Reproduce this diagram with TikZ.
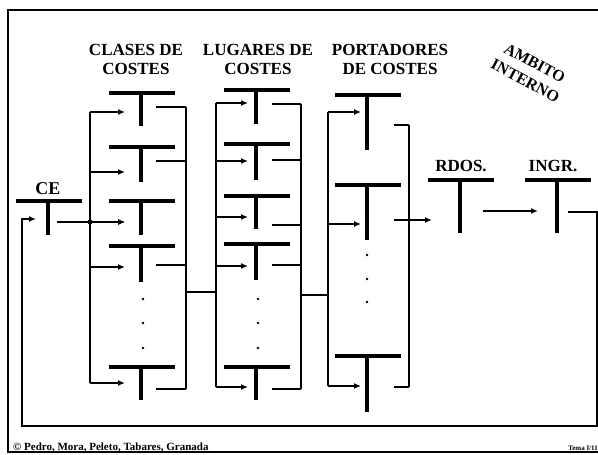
\documentclass[tikz,border=0pt]{standalone}
\usepackage{fontspec}
\setmainfont{Liberation Serif}
\usetikzlibrary{arrows.meta}
\tikzset{
	barra/.style={line width=3.2pt},
	linea/.style={line width=2.4pt},
	rotulo/.style={font=\bfseries\fontsize{17}{19}\selectfont, align=center, inner sep=0pt},
}
% cuenta en T: #1 nombre, #2 x del palo, #3 y de la barra, #4 y del final del palo
\newcommand*{\cuentaT}[4]{
	\coordinate (#1) at (#2,#3);
	\draw[barra] (#2-32,#3) -- (#2+34,#3);
	\draw[barra] (#1) -- (#2,#4);
}
\begin{document}
\begin{tikzpicture}[x=1pt,y=-1pt,>={Latex[length=7pt,width=6pt]}]
		\useasboundingbox (0,0) rectangle (598,455);
		
		% el marco
		\draw[line width=2.6pt] (598,10) -- (8,10) -- (8,452) -- (598,452);
		
		% titles
		\node[rotulo] (clases) at (136,59) {CLASES DE\\COSTES};
		\node[rotulo] (lugares) at (258,59) {LUGARES DE\\COSTES};
		\node[rotulo] (portadores) at (390,59) {PORTADORES\\DE COSTES};
		\node[rotulo,font=\bfseries\fontsize{16}{20}\selectfont,rotate=-28] (ambito) at (530,72) {AMBITO\\INTERNO};
		
		% CE
		\cuentaT{ce}{48}{201}{235}
		\node[rotulo,font=\bfseries\fontsize{18}{20}\selectfont] (celbl) at (48,189) {CE};
		
		% clases de costes
		\coordinate (b1a) at (90,112);
		\coordinate (b1b) at (90,383);
		\coordinate (d1a) at (186,107);
		\coordinate (d1b) at (186,389);
		\foreach \n/\yb/\ys/\ya/\yo in {1/93/126/112/107,2/147/182/172/161,3/201/235/222/0,4/246/282/267/265,5/367/400/383/389}
		{
			\cuentaT{c\n}{141}{\yb}{\ys}
			\draw[linea,->] (b1a|-0,\ya) -- (125,\ya);
			\ifnum\yo>0 \draw[linea] (156,\yo) -- (d1a|-0,\yo); \fi
		}
		\draw[linea] (b1a) -- (b1b);
		\draw[linea] (d1a) -- (d1b);
		
		% lugares de costes
		\coordinate (b2a) at (216,103);
		\coordinate (b2b) at (216,387);
		\coordinate (d2a) at (301,104);
		\coordinate (d2b) at (301,389);
		\foreach \n/\yb/\ys/\ya/\yo in {1/90/124/103/104,2/144/180/161/160,3/196/229/217/225,4/244/280/266/265,5/367/400/387/389}
		{
			\cuentaT{l\n}{256}{\yb}{\ys}
			\draw[linea,->] (b2a|-0,\ya) -- (248,\ya);
			\draw[linea] (272,\yo) -- (d2a|-0,\yo);
		}
		\draw[linea] (b2a) -- (b2b);
		\draw[linea] (d2a) -- (d2b);
		
		% portadores de costes
		\coordinate (b3a) at (328,112);
		\coordinate (b3b) at (328,386);
		\coordinate (d3a) at (409,125);
		\coordinate (d3b) at (409,387);
		\foreach \n/\yb/\ys/\ya/\yo in {1/95/150/112/125,2/185/240/224/220,3/356/412/386/387}
		{
			\cuentaT{p\n}{367}{\yb}{\ys}
			\draw[linea,->] (b3a|-0,\ya) -- (361,\ya);
			\draw[linea] (394,\yo) -- (d3a|-0,\yo);
		}
		\draw[linea] (b3a) -- (b3b);
		\draw[linea] (d3a) -- (d3b);
		
		% dots
		\foreach \y in {299,323,348}
		{
			\fill (143,\y) circle (1.4);
			\fill (258,\y) circle (1.4);
		}
		\foreach \y in {255,279,302}
			\fill (367,\y) circle (1.4);
		
		% RDOS. and INGR.
		\cuentaT{rdos}{460}{180}{233}
		\cuentaT{ingr}{557}{180}{233}
		\node[rotulo] (rdoslbl) at (461,166) {RDOS.};
		\node[rotulo] (ingrlbl) at (553,166) {INGR.};
		
		% the connections
		\draw[linea,->] (57,222) -- (125,222);
		\fill (b1a|-0,222) circle (2.6);
		\draw[linea] (d1a|-0,292) -- (b2a|-0,292);
		\draw[linea] (d2a|-0,295) -- (b3a|-0,295);
		\draw[linea,->] (d3a|-0,220) -- (432,220);
		\draw[linea,->] (483,211) -- (538,211);
		\coordinate (vuelta) at (597,426);
		\draw[linea,->] (568,212) -- (vuelta|-0,212) -- (vuelta) -- (22,426) -- (22,219) -- (36,219);
		
		% pie
		\node[anchor=base west,inner sep=0pt,font=\bfseries\fontsize{11}{12}\selectfont] (autores) at (13,450) {© Pedro, Mora, Peleto, Tabares, Granada};
		\node[anchor=base east,inner sep=0pt,font=\bfseries\fontsize{7}{8}\selectfont] (tema) at (598,450) {Tema I/11};
		
	\end{tikzpicture}
\end{document}
